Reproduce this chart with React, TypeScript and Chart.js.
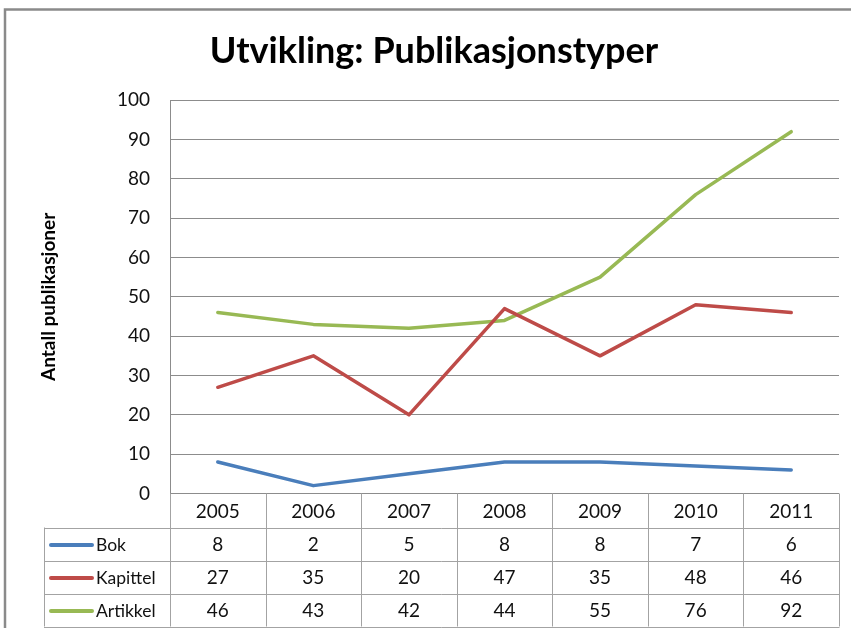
import React, { useEffect, useRef } from "react";
import { Chart, registerables } from "chart.js";

Chart.register(...registerables);

const years = ["2005", "2006", "2007", "2008", "2009", "2010", "2011"];
const bok = [8, 2, 5, 8, 8, 7, 6];
const kapittel = [27, 35, 20, 47, 35, 48, 46];
const artikkel = [46, 43, 42, 44, 55, 76, 92];
const seriesNames = ["Bok", "Kapittel", "Artikkel"];
const seriesColors = ["#4a7ebb", "#be4b48", "#98b954"];
const yMin = 0;
const yMax = 100;
const yStep = 10;

const FONT = "Lato, Carlito, 'Open Sans', sans-serif";

const framePlugin = {
  id: "frame",
  beforeDraw(chart: any) {
    const ctx = chart.ctx;
    ctx.save();
    ctx.fillStyle = "#ffffff";
    ctx.fillRect(0, 0, chart.width, chart.height);
    ctx.strokeStyle = "#8a8a8a";
    ctx.lineWidth = 2.5;
    ctx.beginPath();
    ctx.moveTo(5, chart.height + 5);
    ctx.lineTo(5, 9.5);
    ctx.lineTo(chart.width + 5, 9.5);
    ctx.stroke();
    ctx.restore();
  },
};

const tablePlugin = {
  id: "dataTable",
  afterDraw(chart: any) {
    const ctx = chart.ctx;
    const area = chart.chartArea;
    const xs = chart.scales.x;
    const n = years.length;
    const colW = (area.right - area.left) / n;
    const top = area.bottom;
    const headerH = 34;
    const rowH = 33;
    const legendLeft = 44;
    const bottom = top + headerH + rowH * seriesNames.length;
    const data = chart.data.datasets.map((d: any) => d.data);

    ctx.save();
    ctx.strokeStyle = "#a3a3a3";
    ctx.lineWidth = 1;
    ctx.beginPath();
    for (let i = 0; i <= n; i++) {
      const x = Math.round(area.left + i * colW) + 0.5;
      ctx.moveTo(x, top);
      ctx.lineTo(x, bottom);
    }
    ctx.moveTo(legendLeft + 0.5, top + headerH);
    ctx.lineTo(legendLeft + 0.5, bottom);
    for (let r = 0; r <= seriesNames.length; r++) {
      const y = Math.round(top + headerH + r * rowH) + 0.5;
      ctx.moveTo(legendLeft, y);
      ctx.lineTo(area.right + 0.5, y);
    }
    ctx.stroke();

    ctx.fillStyle = "#111111";
    ctx.font = `19px ${FONT}`;
    ctx.textAlign = "center";
    ctx.textBaseline = "middle";
    years.forEach((yr, i) => {
      const x = xs.getPixelForValue(i);
      ctx.fillText(yr, x, top + headerH / 2 + 1);
    });
    seriesNames.forEach((name, r) => {
      const cy = top + headerH + r * rowH + rowH / 2 + 1;
      ctx.strokeStyle = seriesColors[r];
      ctx.lineWidth = 4;
      ctx.lineCap = "round";
      ctx.beginPath();
      ctx.moveTo(51, cy);
      ctx.lineTo(92, cy);
      ctx.stroke();
      ctx.textAlign = "left";
      ctx.font = `17.5px ${FONT}`;
      ctx.fillText(name, 96, cy);
      ctx.textAlign = "center";
      ctx.font = `19px ${FONT}`;
      data[r].forEach((v: number, i: number) => {
        ctx.fillText(String(v), xs.getPixelForValue(i), cy);
      });
    });
    ctx.restore();
  },
};

export default function App() {
  const ref = useRef<HTMLCanvasElement | null>(null);

  useEffect(() => {
    if (!ref.current) return;
    const seriesData = [bok, kapittel, artikkel];
    const chart = new Chart(ref.current, {
      type: "line",
      data: {
        labels: years,
        datasets: seriesNames.map((name, i) => ({
          label: name,
          data: seriesData[i],
          borderColor: seriesColors[i],
          backgroundColor: seriesColors[i],
          borderWidth: 3.5,
          pointRadius: 0,
          tension: 0,
          borderJoinStyle: "round" as const,
          borderCapStyle: "round" as const,
        })),
      },
      options: {
        responsive: false,
        animation: false,
        devicePixelRatio: 1,
        layout: { padding: { left: 29, top: 10, right: 12, bottom: 134.5 } },
        plugins: {
          legend: { display: false },
          tooltip: { enabled: false },
          title: {
            display: true,
            text: "Utvikling: Publikasjonstyper",
            color: "#000000",
            font: { family: FONT, size: 36, weight: "bold" },
            padding: { top: 20, bottom: 27 },
          },
        },
        scales: {
          x: {
            type: "category",
            offset: true,
            display: false,
          },
          y: {
            min: yMin,
            max: yMax,
            afterFit(scale: any) {
              scale.width = 141;
            },
            ticks: {
              stepSize: yStep,
              padding: 20,
              color: "#111111",
              font: { family: FONT, size: 19 },
            },
            grid: { color: "#8c8c8c", lineWidth: 1, drawTicks: false },
            border: { display: true, color: "#8c8c8c", width: 1 },
            title: {
              display: true,
              text: "Antall publikasjoner",
              color: "#000000",
              font: { family: FONT, size: 19, weight: "bold" },
              padding: { top: 8.5 },
            },
          },
        },
      },
      plugins: [framePlugin, tablePlugin],
    });
    return () => chart.destroy();
  }, []);

  return (
    <div style={{ position: "absolute", left: 0, top: 0, width: 851, height: 628 }}>
      <canvas ref={ref} width={851} height={628} />
    </div>
  );
}
